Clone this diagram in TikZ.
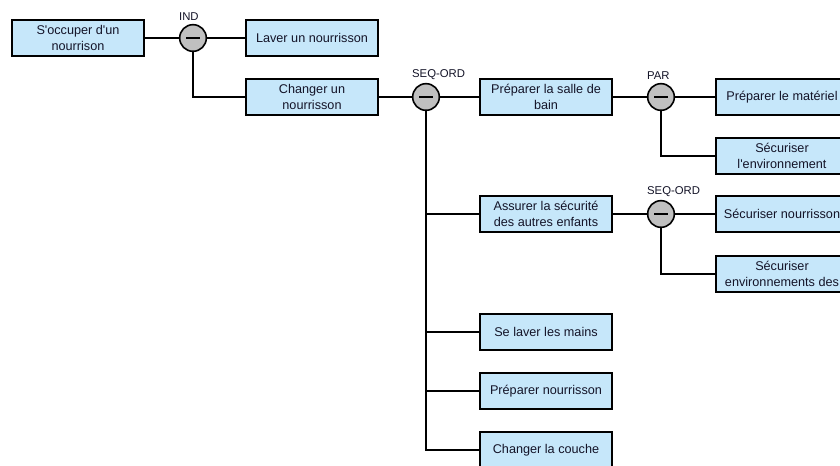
\documentclass[tikz,border=0pt]{standalone}
\usepackage{fontspec}
\setmainfont{Liberation Sans}
\definecolor{boxblue}{RGB}{198,231,250}
\definecolor{opgray}{RGB}{192,192,192}
\definecolor{txt}{RGB}{20,20,40}
\begin{document}
\begin{tikzpicture}[x=0.75pt,y=-0.75pt,
  task/.style={draw=black, line width=1.5pt, fill=boxblue, minimum width=99pt, minimum height=27pt, inner sep=1pt, align=center, font=\fontsize{9.5}{12}\selectfont, text=txt},
  op/.style={circle, draw=black, line width=1.2pt, fill=opgray, minimum size=20pt, inner sep=0pt,
    path picture={\draw[line width=1pt] ([xshift=-5pt]path picture bounding box.center) -- ([xshift=5pt]path picture bounding box.center);}},
  oplabel/.style={font=\fontsize{8.5}{10}\selectfont, anchor=south west, inner sep=0pt, yshift=2pt, text=txt},
  link/.style={line width=1.5pt}]
\useasboundingbox (0,0) rectangle (840,466);
\clip (0,0) rectangle (840,466);
\fill[white] (0,0) rectangle (840,466);
% nodes
\node[task] (root) at (78,38) {S\textquotesingle occuper d\textquotesingle un\\nourrison};
\node[op] (ind) at (193,38) {};
\node[oplabel] (indl) at (ind.north -| ind.west) {IND};
\node[task] (laver) at (312,38) {Laver un nourrisson};
\node[task] (changer) at (312,97) {Changer un\\nourrisson};
\node[op] (seq1) at (426,97) {};
\node[oplabel] (seq1l) at (seq1.north -| seq1.west) {SEQ-ORD};
\node[task] (salle) at (546,97) {Préparer la salle de\\bain};
\node[op] (par) at (661,97) {};
\node[oplabel] (parl) at (par.north -| par.west) {PAR};
\node[task] (materiel) at (782,97) {Préparer le matériel};
\node[task] (secenv) at (782,156) {Sécuriser\\l\textquotesingle environnement};
\node[task] (assurer) at (546,214) {Assurer la sécurité\\des autres enfants};
\node[op] (seq2) at (661,214) {};
\node[oplabel] (seq2l) at (seq2.north -| seq2.west) {SEQ-ORD};
\node[task] (secnour) at (782,214) {Sécuriser nourrisson};
\node[task] (secenvs) at (782,274) {Sécuriser\\environnements des};
\node[task] (mains) at (546,332) {Se laver les mains};
\node[task] (prepnour) at (546,391) {Préparer nourrisson};
\node[task] (couche) at (546,450) {Changer la couche};
% links
\draw[link] (root) -- (ind);
\draw[link] (ind) -- (laver);
\draw[link] (ind) |- (changer);
\draw[link] (changer) -- (seq1);
\draw[link] (seq1) -- (salle);
\draw[link] (seq1) |- (assurer);
\draw[link] (seq1) |- (mains);
\draw[link] (seq1) |- (prepnour);
\draw[link] (seq1) |- (couche);
\draw[link] (salle) -- (par);
\draw[link] (par) -- (materiel);
\draw[link] (par) |- (secenv);
\draw[link] (assurer) -- (seq2);
\draw[link] (seq2) -- (secnour);
\draw[link] (seq2) |- (secenvs);
\end{tikzpicture}
\end{document}
